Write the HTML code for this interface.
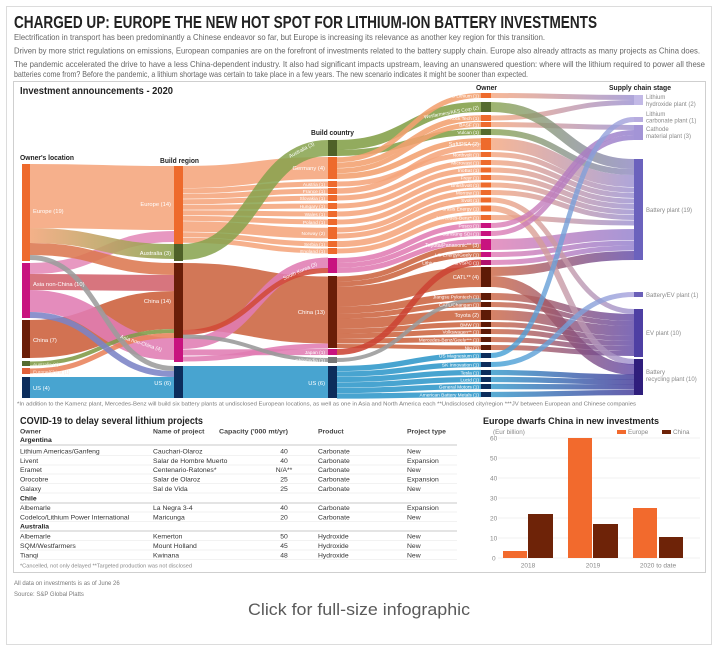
<!DOCTYPE html>
<html><head><meta charset="utf-8"><style>
html,body{margin:0;padding:0;background:#fff;}
svg{display:block;}
text{font-family:"Liberation Sans Narrow","Liberation Sans",sans-serif;}
</style></head><body>
<svg width="718" height="654" viewBox="0 0 718 654" xmlns="http://www.w3.org/2000/svg">
<defs>
<linearGradient id="gEA" gradientUnits="userSpaceOnUse" x1="30" y1="0" x2="174" y2="0"><stop offset="0" stop-color="#f2a679"/><stop offset="1" stop-color="#8aa24e"/></linearGradient>
<linearGradient id="gS" gradientUnits="userSpaceOnUse" x1="491" y1="0" x2="634" y2="0"><stop offset="0" stop-color="#f5a57c"/><stop offset="1" stop-color="#9a8fd0"/></linearGradient>
<linearGradient id="gG" gradientUnits="userSpaceOnUse" x1="491" y1="0" x2="634" y2="0"><stop offset="0" stop-color="#86a24c"/><stop offset="1" stop-color="#8c86c0"/></linearGradient>
<linearGradient id="gP" gradientUnits="userSpaceOnUse" x1="491" y1="0" x2="634" y2="0"><stop offset="0" stop-color="#e07cb3"/><stop offset="1" stop-color="#8f7ccc"/></linearGradient>
<linearGradient id="gB" gradientUnits="userSpaceOnUse" x1="491" y1="0" x2="634" y2="0"><stop offset="0" stop-color="#cc6440"/><stop offset="1" stop-color="#5e46a6"/></linearGradient>
<linearGradient id="gU" gradientUnits="userSpaceOnUse" x1="491" y1="0" x2="634" y2="0"><stop offset="0" stop-color="#2f97c9"/><stop offset="1" stop-color="#3e3496"/></linearGradient>
<linearGradient id="gU2" gradientUnits="userSpaceOnUse" x1="491" y1="0" x2="634" y2="0"><stop offset="0" stop-color="#3a9fd4"/><stop offset="1" stop-color="#a9a0dc"/></linearGradient>
</defs>

<!-- outer frame -->
<rect x="6.5" y="6.5" width="705" height="638" fill="#fff" stroke="#dcdcdc"/>

<!-- title & intro -->
<text x="14" y="28" font-size="17.5" font-weight="bold" fill="#222" textLength="583" lengthAdjust="spacingAndGlyphs">CHARGED UP: EUROPE THE NEW HOT SPOT FOR LITHIUM-ION BATTERY INVESTMENTS</text>
<g font-size="8.2" fill="#666">
<text x="14" y="40" textLength="531" lengthAdjust="spacingAndGlyphs">Electrification in transport has been predominantly a Chinese endeavor so far, but Europe is increasing its relevance as another key region for this transition.</text>
<text x="14" y="53.5" textLength="686" lengthAdjust="spacingAndGlyphs">Driven by more strict regulations on emissions, European companies are on the forefront of investments related to the battery supply chain. Europe also already attracts as many projects as China does.</text>
<text x="14" y="67" textLength="691" lengthAdjust="spacingAndGlyphs">The pandemic accelerated the drive to have a less China-dependent industry. It also had significant impacts upstream, leaving an unanswered question: where will the lithium required to power all these</text>
<text x="14" y="77" textLength="514" lengthAdjust="spacingAndGlyphs">batteries come from? Before the pandemic, a lithium shortage was certain to take place in a few years. The new scenario indicates it might be sooner than expected.</text>
</g>

<!-- main box -->
<rect x="13.5" y="81.5" width="692" height="491" fill="none" stroke="#cfcfcf"/>

<!-- headers -->
<text x="20" y="94" font-size="10" font-weight="bold" fill="#222" textLength="153" lengthAdjust="spacingAndGlyphs">Investment announcements - 2020</text>
<g font-size="7" font-weight="bold" fill="#222">
<text x="20" y="160" textLength="54" lengthAdjust="spacingAndGlyphs">Owner's location</text>
<text x="160" y="163" textLength="39" lengthAdjust="spacingAndGlyphs">Build region</text>
<text x="311" y="135" textLength="43" lengthAdjust="spacingAndGlyphs">Build country</text>
<text x="476" y="90" textLength="21" lengthAdjust="spacingAndGlyphs">Owner</text>
<text x="609" y="90" textLength="62" lengthAdjust="spacingAndGlyphs">Supply chain stage</text>
</g>

<!-- FLOWS col1 -> col2 -->
<g fill="none" stroke-opacity="0.88">
<path d="M30 196C102 196 102 198 174 198" stroke-width="64" stroke="#f5a57c"/>
<path d="M30 339C102 339 102 310 174 310" stroke-width="38" stroke="#cc5e3a"/>
<path d="M30 387.5C102 387.5 102 387.5 174 387.5" stroke-width="21" stroke="#2f97c9"/>
<path d="M30 301C102 301 102 349 174 349" stroke-width="22" stroke="#e07cb3"/>
<path d="M30 282C102 282 102 283 174 283" stroke-width="16" stroke="#d1626c"/>
<path d="M30 268.5C102 268.5 102 236.5 174 236.5" stroke-width="11" stroke="#e48ab8"/>
<path d="M30 249C102 249 102 269 174 269" stroke-width="12" stroke="#dc7850"/>
<path d="M30 235.5C102 235.5 102 251.5 174 251.5" stroke-width="15" stroke="url(#gEA)"/>
<path d="M30 363.5C102 363.5 102 331 174 331" stroke-width="4" stroke="#7f9a45"/>
<path d="M30 371C102 371 102 335.5 174 335.5" stroke-width="5" stroke="#e8825a"/>
<path d="M30 315C102 315 102 374 174 374" stroke-width="6" stroke="#7b83c6"/>
<path d="M30 257.5C102 257.5 102 368.5 174 368.5" stroke-width="5" stroke="#9c9c9c"/>
</g>

<!-- FLOWS col2 -> col3 -->
<g fill="none" stroke-opacity="0.88">
<path d="M183 296.5C255.5 296.5 255.5 310 328 310" stroke-width="67" stroke="#cc6440"/>
<path d="M183 382C255.5 382 255.5 382 328 382" stroke-width="32" stroke="#2f97c9"/>
<g stroke="#f5a57c">
<path d="M183 177C255.5 177 255.5 168 328 168" stroke-width="22"/>
<path d="M183 190.75C255.5 190.75 255.5 184 328 184" stroke-width="5"/>
<path d="M183 196.25C255.5 196.25 255.5 191 328 191" stroke-width="5"/>
<path d="M183 201.75C255.5 201.75 255.5 198 328 198" stroke-width="5"/>
<path d="M183 207.25C255.5 207.25 255.5 206 328 206" stroke-width="5"/>
<path d="M183 212.75C255.5 212.75 255.5 214 328 214" stroke-width="5"/>
<path d="M183 218.25C255.5 218.25 255.5 222 328 222" stroke-width="5"/>
<path d="M183 226.5C255.5 226.5 255.5 233 328 233" stroke-width="10.5"/>
<path d="M183 234.75C255.5 234.75 255.5 244 328 244" stroke-width="5"/>
<path d="M183 240.25C255.5 240.25 255.5 251 328 251" stroke-width="5"/>
</g>
<path d="M183 252C255.5 252 255.5 148 328 148" stroke-width="16" stroke="#86a24c" stroke-opacity="0.85"/>
<path d="M183 343.5C255.5 343.5 255.5 263 328 263" stroke-width="11" stroke="#e07cb3"/>
<path d="M183 352.5C255.5 352.5 255.5 352 328 352" stroke-width="6" stroke="#e07cb3"/>
<path d="M183 359C255.5 359 255.5 346 328 346" stroke-width="5" stroke="#e07cb3"/>
<path d="M183 332.5C255.5 332.5 255.5 270.5 328 270.5" stroke-width="5" stroke="#d24a38"/>
<path d="M183 336.5C255.5 336.5 255.5 360 328 360" stroke-width="4" stroke="#999"/>
</g>

<!-- FLOWS col3 -> col4 -->
<g fill="none" stroke-opacity="0.88">
<g stroke="#cc6440">
<path d="M337 279C409 279 409 246.5 481 246.5" stroke-width="5"/>
<path d="M337 284C409 284 409 254.5 481 254.5" stroke-width="5"/>
<path d="M337 296.5C409 296.5 409 277 481 277" stroke-width="20"/>
<path d="M337 310C409 310 409 296.5 481 296.5" stroke-width="7"/>
<path d="M337 316C409 316 409 304.5 481 304.5" stroke-width="5"/>
<path d="M337 323.5C409 323.5 409 315 481 315" stroke-width="10"/>
<path d="M337 331C409 331 409 324.5 481 324.5" stroke-width="5"/>
<path d="M337 336C409 336 409 331.5 481 331.5" stroke-width="5"/>
<path d="M337 341C409 341 409 339.5 481 339.5" stroke-width="5"/>
<path d="M337 346C409 346 409 347.5 481 347.5" stroke-width="4"/>
</g>
<g stroke="#f5a57c">
<path d="M337 184C409 184 409 154.5 481 154.5" stroke-width="5"/>
<path d="M337 198C409 198 409 162.5 481 162.5" stroke-width="5"/>
<path d="M337 206C409 206 409 170 481 170" stroke-width="5"/>
<path d="M337 214C409 214 409 177.5 481 177.5" stroke-width="5"/>
<path d="M337 222C409 222 409 185 481 185" stroke-width="5"/>
<path d="M337 230C409 230 409 192.5 481 192.5" stroke-width="5"/>
<path d="M337 236C409 236 409 200 481 200" stroke-width="5"/>
<path d="M337 244C409 244 409 208.5 481 208.5" stroke-width="6"/>
<path d="M337 251C409 251 409 217.5 481 217.5" stroke-width="5"/>
<path d="M337 191C409 191 409 147 481 147" stroke-width="5.5"/>
</g>
<g stroke="#86a24c" stroke-opacity="0.9">
<path d="M337 145C409 145 409 107 481 107" stroke-width="10"/>
<path d="M337 153C409 153 409 132 481 132" stroke-width="6"/>
</g>
<g stroke="#f2a06f">
<path d="M337 159.75C409 159.75 409 95.5 481 95.5" stroke-width="5"/>
<path d="M337 165.25C409 165.25 409 118 481 118" stroke-width="5.5"/>
<path d="M337 170.75C409 170.75 409 124.5 481 124.5" stroke-width="5"/>
<path d="M337 176.25C409 176.25 409 141 481 141" stroke-width="5.5"/>
</g>
<g stroke="#e07cb3">
<path d="M337 260.5C409 260.5 409 225.5 481 225.5" stroke-width="5"/>
<path d="M337 265.5C409 265.5 409 233.5 481 233.5" stroke-width="5"/>
<path d="M337 270.5C409 270.5 409 241.5 481 241.5" stroke-width="5"/>
</g>
<path d="M337 352C409 352 409 262.5 481 262.5" stroke-width="6" stroke="#cc4434"/>
<path d="M337 360C409 360 409 300 481 300" stroke-width="4" stroke="#9a9a9a"/>
<g stroke="#2f97c9">
<path d="M337 368.5C409 368.5 409 355.5 481 355.5" stroke-width="5.3"/>
<path d="M337 374C409 374 409 364.5 481 364.5" stroke-width="5.3"/>
<path d="M337 379.5C409 379.5 409 372.5 481 372.5" stroke-width="5.3"/>
<path d="M337 385C409 385 409 379.5 481 379.5" stroke-width="5.3"/>
<path d="M337 390.5C409 390.5 409 386.5 481 386.5" stroke-width="5.3"/>
<path d="M337 396C409 396 409 394.5 481 394.5" stroke-width="5.3"/>
</g>
</g>

<!-- FLOWS col4 -> col5 -->
<g fill="none" stroke-opacity="0.8">
<path d="M491 271.5C562.5 271.5 562.5 255.5 634 255.5" stroke-width="9" stroke="url(#gB)"/>
<path d="M491 315C562.5 315 562.5 331 634 331" stroke-width="10" stroke="url(#gB)"/>
<path d="M491 296.5C562.5 296.5 562.5 317.5 634 317.5" stroke-width="7" stroke="url(#gB)"/>
<path d="M491 304.5C562.5 304.5 562.5 323.5 634 323.5" stroke-width="5" stroke="url(#gB)"/>
<path d="M491 324.5C562.5 324.5 562.5 338.5 634 338.5" stroke-width="5" stroke="url(#gB)"/>
<path d="M491 331.5C562.5 331.5 562.5 343.5 634 343.5" stroke-width="5" stroke="url(#gB)"/>
<path d="M491 339.5C562.5 339.5 562.5 348.5 634 348.5" stroke-width="5" stroke="url(#gB)"/>
<path d="M491 347.5C562.5 347.5 562.5 353.5 634 353.5" stroke-width="5" stroke="url(#gB)"/>
<path d="M491 95.5C562.5 95.5 562.5 97.5 634 97.5" stroke-width="5" stroke="url(#gS)"/>
<path d="M491 118C562.5 118 562.5 102.5 634 102.5" stroke-width="5" stroke="url(#gS)"/>
<path d="M491 124.5C562.5 124.5 562.5 127.5 634 127.5" stroke-width="5" stroke="url(#gS)"/>
<path d="M491 144C562.5 144 562.5 181 634 181" stroke-width="12" stroke="url(#gS)"/>
<path d="M491 154.5C562.5 154.5 562.5 190 634 190" stroke-width="5" stroke="url(#gS)"/>
<path d="M491 162.5C562.5 162.5 562.5 195.5 634 195.5" stroke-width="5" stroke="url(#gS)"/>
<path d="M491 170C562.5 170 562.5 201 634 201" stroke-width="5" stroke="url(#gS)"/>
<path d="M491 177.5C562.5 177.5 562.5 206.5 634 206.5" stroke-width="5" stroke="url(#gS)"/>
<path d="M491 185C562.5 185 562.5 212 634 212" stroke-width="5" stroke="url(#gS)"/>
<path d="M491 192.5C562.5 192.5 562.5 217.5 634 217.5" stroke-width="5" stroke="url(#gS)"/>
<path d="M491 217.5C562.5 217.5 562.5 223 634 223" stroke-width="5" stroke="url(#gS)"/>
<path d="M491 107C562.5 107 562.5 164 634 164" stroke-width="10" stroke="url(#gG)"/>
<path d="M491 132C562.5 132 562.5 172 634 172" stroke-width="6" stroke="url(#gG)"/>
<path d="M491 244.5C562.5 244.5 562.5 234.5 634 234.5" stroke-width="11" stroke="url(#gP)"/>
<path d="M491 254.5C562.5 254.5 562.5 243 634 243" stroke-width="5" stroke="url(#gP)"/>
<path d="M491 262.5C562.5 262.5 562.5 248 634 248" stroke-width="5" stroke="url(#gP)"/>
<path d="M491 200C562.5 200 562.5 311.5 634 311.5" stroke-width="5" stroke="url(#gS)"/>
<path d="M491 208.5C562.5 208.5 562.5 362 634 362" stroke-width="6" stroke="url(#gS)"/>
<path d="M491 225.5C562.5 225.5 562.5 132.5 634 132.5" stroke-width="5" stroke="url(#gP)"/>
<path d="M491 233.5C562.5 233.5 562.5 137.5 634 137.5" stroke-width="5" stroke="url(#gP)"/>
<path d="M491 281.5C562.5 281.5 562.5 369.5 634 369.5" stroke-width="11" stroke="url(#gB)"/>
<path d="M491 372.5C562.5 372.5 562.5 377 634 377" stroke-width="5.3" stroke="url(#gU)"/>
<path d="M491 379.5C562.5 379.5 562.5 382 634 382" stroke-width="5.3" stroke="url(#gU)"/>
<path d="M491 386.5C562.5 386.5 562.5 387 634 387" stroke-width="5.3" stroke="url(#gU)"/>
<path d="M491 394.5C562.5 394.5 562.5 392.5 634 392.5" stroke-width="5.3" stroke="url(#gU)"/>
<path d="M491 364.5C562.5 364.5 562.5 294.5 634 294.5" stroke-width="5" stroke="url(#gU2)"/>
<path d="M491 355.5C562.5 355.5 562.5 119.5 634 119.5" stroke-width="5" stroke="url(#gU2)"/>
</g>

<!-- NODES col1 -->
<g>
<rect x="22" y="164" width="8" height="97" fill="#ee6a2c"/>
<rect x="22" y="263" width="8" height="55" fill="#c8137f"/>
<rect x="22" y="320" width="8" height="38" fill="#6a1e08"/>
<rect x="22" y="361" width="8" height="5" fill="#556b2f"/>
<rect x="22" y="368" width="8" height="6" fill="#e0603a"/>
<rect x="22" y="377" width="8" height="21" fill="#0c2d5c"/>
</g>
<!-- col2 -->
<g>
<rect x="174" y="166" width="9" height="78" fill="#ee6a2c"/>
<rect x="174" y="244" width="9" height="17" fill="#4e6128"/>
<rect x="174" y="263" width="9" height="75" fill="#6a1e08"/>
<rect x="174" y="338" width="9" height="24" fill="#c8137f"/>
<rect x="174" y="366" width="9" height="32" fill="#0c2d5c"/>
</g>
<!-- col3 -->
<g fill="#ee6a2c">
<rect x="328" y="140" width="9" height="16" fill="#4e6128"/>
<rect x="328" y="157" width="9" height="22"/>
<rect x="328" y="181" width="9" height="6"/>
<rect x="328" y="188" width="9" height="6"/>
<rect x="328" y="195" width="9" height="6"/>
<rect x="328" y="203" width="9" height="6"/>
<rect x="328" y="211" width="9" height="6"/>
<rect x="328" y="219" width="9" height="6"/>
<rect x="328" y="227" width="9" height="12"/>
<rect x="328" y="241" width="9" height="6"/>
<rect x="328" y="248" width="9" height="6"/>
<rect x="328" y="258" width="9" height="15" fill="#c8137f"/>
<rect x="328" y="276" width="9" height="72" fill="#6a1e08"/>
<rect x="328" y="349" width="9" height="6" fill="#c8137f"/>
<rect x="328" y="357" width="9" height="6" fill="#777"/>
<rect x="328" y="366" width="9" height="32" fill="#0c2d5c"/>
</g>
<!-- col4 -->
<g fill="#ee6a2c">
<rect x="481" y="93" width="10" height="5"/>
<rect x="481" y="102" width="10" height="10" fill="#556b2f"/>
<rect x="481" y="115" width="10" height="6"/>
<rect x="481" y="122" width="10" height="5"/>
<rect x="481" y="129" width="10" height="6" fill="#556b2f"/>
<rect x="481" y="138" width="10" height="12"/>
<rect x="481" y="152" width="10" height="5"/>
<rect x="481" y="160" width="10" height="5"/>
<rect x="481" y="167.5" width="10" height="5"/>
<rect x="481" y="175" width="10" height="5"/>
<rect x="481" y="182.5" width="10" height="5"/>
<rect x="481" y="190" width="10" height="5"/>
<rect x="481" y="197.5" width="10" height="5"/>
<rect x="481" y="205.5" width="10" height="6"/>
<rect x="481" y="215" width="10" height="5"/>
<rect x="481" y="223" width="10" height="5" fill="#c8137f"/>
<rect x="481" y="231" width="10" height="5" fill="#c8137f"/>
<rect x="481" y="239" width="10" height="11" fill="#c8137f"/>
<rect x="481" y="252" width="10" height="5" fill="#c8137f"/>
<rect x="481" y="260" width="10" height="5" fill="#b0126e"/>
<rect x="481" y="267" width="10" height="20" fill="#5e1a06"/>
<rect x="481" y="293" width="10" height="7" fill="#5e1a06"/>
<rect x="481" y="302" width="10" height="5" fill="#5e1a06"/>
<rect x="481" y="310" width="10" height="10" fill="#5e1a06"/>
<rect x="481" y="322" width="10" height="5" fill="#5e1a06"/>
<rect x="481" y="329" width="10" height="5" fill="#5e1a06"/>
<rect x="481" y="337" width="10" height="5" fill="#5e1a06"/>
<rect x="481" y="345" width="10" height="5" fill="#5e1a06"/>
<rect x="481" y="353" width="10" height="5" fill="#0c2d5c"/>
<rect x="481" y="362" width="10" height="5" fill="#0c2d5c"/>
<rect x="481" y="370" width="10" height="5" fill="#0c2d5c"/>
<rect x="481" y="377" width="10" height="5" fill="#0c2d5c"/>
<rect x="481" y="384" width="10" height="5" fill="#0c2d5c"/>
<rect x="481" y="392" width="10" height="5" fill="#0c2d5c"/>
</g>
<!-- col5 -->
<g>
<rect x="634" y="95" width="9" height="10" fill="#c2b9e6"/>
<rect x="634" y="117" width="9" height="5" fill="#b7acdf"/>
<rect x="634" y="125" width="9" height="15" fill="#a394d6"/>
<rect x="634" y="159" width="9" height="101" fill="#6b62bd"/>
<rect x="634" y="292" width="9" height="5" fill="#6a5fb8"/>
<rect x="634" y="309" width="9" height="48" fill="#4e3fa3"/>
<rect x="634" y="359" width="9" height="36" fill="#2f1e7c"/>
</g>

<!-- node labels -->
<g font-size="5.8" fill="#fff">
<text x="33" y="213">Europe (19)</text>
<text x="33" y="286">Asia non-China (10)</text>
<text x="33" y="342">China (7)</text>
<text x="33" y="390">US (4)</text>
<text x="33" y="366" font-size="4.8" fill="#e8efd8">Australia (1)</text>
<text x="33" y="373.5" font-size="4.8" fill="#ffe3d6">Europe/China (1)</text>
<g text-anchor="end">
<text x="171" y="206">Europe (14)</text>
<text x="171" y="255">Australia (3)</text>
<text x="171" y="303">China (14)</text>
<text x="171" y="385">US (6)</text>
<text x="325" y="170">Germany (4)</text>
<text x="325" y="186" font-size="4.8">Austria (1)</text>
<text x="325" y="193" font-size="4.8">France (1)</text>
<text x="325" y="200" font-size="4.8">Slovakia (1)</text>
<text x="325" y="208" font-size="4.8">Hungary (1)</text>
<text x="325" y="216" font-size="4.8">Wales (1)</text>
<text x="325" y="224" font-size="4.8">Poland (1)</text>
<text x="325" y="235" font-size="4.8">Norway (2)</text>
<text x="325" y="246" font-size="4.8">Serbia (1)</text>
<text x="325" y="253" font-size="4.8">England (1)</text>
<text x="325" y="314">China (13)</text>
<text x="325" y="354" font-size="4.8">Japan (1)</text>
<text x="325" y="362" font-size="4.8">Chile/India (1)</text>
<text x="325" y="385">US (6)</text>
</g>
<text x="120" y="338" font-size="5.2" transform="rotate(18 120 338)">Asia non-China (4)</text>
<text x="290" y="158" font-size="5.2" transform="rotate(-28 290 158)">Australia (3)</text>
<text x="284" y="280" font-size="5.2" transform="rotate(-24 284 280)">South Korea (3)</text>
</g>

<!-- owner labels -->
<g font-size="4.8" fill="#fff" text-anchor="end">
<text x="479" y="97.5">AMG Lithium (1)</text>
<text x="479" y="109" transform="rotate(-10 479 109)">Wesfarmers/AES Corp (2)</text>
<text x="479" y="120">Rock Tech (1)</text>
<text x="479" y="126.5">BASF (1)</text>
<text x="479" y="134">Vulcan (1)</text>
<text x="479" y="146" font-size="5.5">Saft/PSA (2)</text>
<text x="479" y="156.5">Northvolt (1)</text>
<text x="479" y="164.5">Microvast (1)</text>
<text x="479" y="172">InoBat (1)</text>
<text x="479" y="179.5">Freyr (1)</text>
<text x="479" y="187">Britishvolt (1)</text>
<text x="479" y="194.5">Morrow (1)</text>
<text x="479" y="202">Svolt (1)</text>
<text x="479" y="210.5">Farasis Energy (1)</text>
<text x="479" y="219.5">Mercedes-Benz* (1)</text>
<text x="479" y="227.5">Posco (1)</text>
<text x="479" y="235.5">Samsung SDI (1)</text>
<text x="479" y="247" font-size="5.3">Toyota/Panasonic** (3)</text>
<text x="479" y="256.5">LG Energy/Geely (1)</text>
<text x="479" y="264.5">Lithium Australia/VSPC (1)</text>
<text x="479" y="279" font-size="5.5">CATL** (4)</text>
<text x="479" y="298.5">Jiangsu Pylontech (1)</text>
<text x="479" y="306.5">CATL/Changan (1)</text>
<text x="479" y="317" font-size="5.5">Toyota (2)</text>
<text x="479" y="326.5">BMW (1)</text>
<text x="479" y="333.5">Volkswagen** (1)</text>
<text x="479" y="341.5">Mercedes-Benz/Geely*** (1)</text>
<text x="479" y="349.5">Nio (1)</text>
<text x="479" y="357.5">US Magnesium (1)</text>
<text x="479" y="366.5">SK Innovation (1)</text>
<text x="479" y="374.5">Tesla (1)</text>
<text x="479" y="381.5">Lucid (1)</text>
<text x="479" y="388.5">General Motors (1)</text>
<text x="479" y="396.5">American Battery Metals (1)</text>
</g>

<!-- supply chain labels -->
<g font-size="6" fill="#8a8a8a">
<text x="646" y="99">Lithium</text>
<text x="646" y="106">hydroxide plant (2)</text>
<text x="646" y="116">Lithium</text>
<text x="646" y="122.5">carbonate plant (1)</text>
<text x="646" y="131">Cathode</text>
<text x="646" y="138">material plant (3)</text>
<text x="646" y="212">Battery plant (19)</text>
<text x="646" y="297">Battery/EV plant (1)</text>
<text x="646" y="335">EV plant (10)</text>
<text x="646" y="374">Battery</text>
<text x="646" y="381">recycling plant (10)</text>
</g>

<text x="17" y="405.5" font-size="5.6" fill="#7a7a7a" textLength="619" lengthAdjust="spacingAndGlyphs">*In addition to the Kamenz plant, Mercedes-Benz will build six battery plants at undisclosed European locations, as well as one in Asia and North America each **Undisclosed city/region ***JV between European and Chinese companies</text>

<!-- TABLE -->
<text x="20" y="424" font-size="10" font-weight="bold" fill="#222" textLength="183" lengthAdjust="spacingAndGlyphs">COVID-19 to delay several lithium projects</text>
<g font-size="6.8" font-weight="bold" fill="#444">
<text x="20" y="433.5">Owner</text>
<text x="153" y="433.5">Name of project</text>
<text x="219" y="433.5" textLength="69" lengthAdjust="spacingAndGlyphs">Capacity ('000 mt/yr)</text>
<text x="318" y="433.5">Product</text>
<text x="407" y="433.5">Project type</text>
<text x="20" y="442" fill="#222">Argentina</text>
<text x="20" y="500.5" fill="#222">Chile</text>
<text x="20" y="528.5" fill="#222">Australia</text>
</g>
<g stroke="#b8b8b8" stroke-width="0.8">
<line x1="20" y1="445" x2="457" y2="445"/>
<line x1="20" y1="503" x2="457" y2="503"/>
<line x1="20" y1="531" x2="457" y2="531"/>
</g>
<g stroke="#e6e6e6" stroke-width="0.6">
<line x1="20" y1="455.5" x2="457" y2="455.5"/>
<line x1="20" y1="465" x2="457" y2="465"/>
<line x1="20" y1="474" x2="457" y2="474"/>
<line x1="20" y1="483.5" x2="457" y2="483.5"/>
<line x1="20" y1="493" x2="457" y2="493"/>
<line x1="20" y1="512" x2="457" y2="512"/>
<line x1="20" y1="521.5" x2="457" y2="521.5"/>
<line x1="20" y1="540.5" x2="457" y2="540.5"/>
<line x1="20" y1="550" x2="457" y2="550"/>
<line x1="20" y1="559.5" x2="457" y2="559.5"/>
</g>
<g font-size="6.8" fill="#333">
<text x="20" y="453.5">Lithium Americas/Ganfeng</text><text x="153" y="453.5">Cauchari-Olaroz</text><text x="284" y="453.5" text-anchor="middle">40</text><text x="318" y="453.5">Carbonate</text><text x="407" y="453.5">New</text>
<text x="20" y="463">Livent</text><text x="153" y="463">Salar de Hombre Muerto</text><text x="284" y="463" text-anchor="middle">40</text><text x="318" y="463">Carbonate</text><text x="407" y="463">Expansion</text>
<text x="20" y="472">Eramet</text><text x="153" y="472">Centenario-Ratones*</text><text x="284" y="472" text-anchor="middle">N/A**</text><text x="318" y="472">Carbonate</text><text x="407" y="472">New</text>
<text x="20" y="481.5">Orocobre</text><text x="153" y="481.5">Salar de Olaroz</text><text x="284" y="481.5" text-anchor="middle">25</text><text x="318" y="481.5">Carbonate</text><text x="407" y="481.5">Expansion</text>
<text x="20" y="491">Galaxy</text><text x="153" y="491">Sal de Vida</text><text x="284" y="491" text-anchor="middle">25</text><text x="318" y="491">Carbonate</text><text x="407" y="491">New</text>
<text x="20" y="510">Albemarle</text><text x="153" y="510">La Negra 3-4</text><text x="284" y="510" text-anchor="middle">40</text><text x="318" y="510">Carbonate</text><text x="407" y="510">Expansion</text>
<text x="20" y="519.5">Codelco/Lithium Power International</text><text x="153" y="519.5">Maricunga</text><text x="284" y="519.5" text-anchor="middle">20</text><text x="318" y="519.5">Carbonate</text><text x="407" y="519.5">New</text>
<text x="20" y="538.5">Albemarle</text><text x="153" y="538.5">Kemerton</text><text x="284" y="538.5" text-anchor="middle">50</text><text x="318" y="538.5">Hydroxide</text><text x="407" y="538.5">New</text>
<text x="20" y="548">SQM/Westfarmers</text><text x="153" y="548">Mount Holland</text><text x="284" y="548" text-anchor="middle">45</text><text x="318" y="548">Hydroxide</text><text x="407" y="548">New</text>
<text x="20" y="557.5">Tianqi</text><text x="153" y="557.5">Kwinana</text><text x="284" y="557.5" text-anchor="middle">48</text><text x="318" y="557.5">Hydroxide</text><text x="407" y="557.5">New</text>
</g>
<text x="20" y="567.5" font-size="5.6" fill="#888">*Cancelled, not only delayed **Targeted production was not disclosed</text>

<!-- BAR CHART -->
<text x="483" y="424" font-size="9.5" font-weight="bold" fill="#222" textLength="176" lengthAdjust="spacingAndGlyphs">Europe dwarfs China in new investments</text>
<text x="493" y="434" font-size="6.3" fill="#888">(Eur billion)</text>
<rect x="617" y="430" width="9" height="4" fill="#f26a2d"/>
<text x="628" y="434" font-size="6.3" fill="#888">Europe</text>
<rect x="662" y="430" width="9" height="4" fill="#6e2308"/>
<text x="673" y="434" font-size="6.3" fill="#888">China</text>
<g stroke="#eeeeee" stroke-width="0.8">
<line x1="498" y1="438" x2="700" y2="438"/>
<line x1="498" y1="458" x2="700" y2="458"/>
<line x1="498" y1="478" x2="700" y2="478"/>
<line x1="498" y1="498" x2="700" y2="498"/>
<line x1="498" y1="518" x2="700" y2="518"/>
<line x1="498" y1="538" x2="700" y2="538"/>
<line x1="498" y1="558" x2="700" y2="558"/>
</g>
<g font-size="6.5" fill="#888">
<text x="490" y="440.5">60</text>
<text x="490" y="460.5">50</text>
<text x="490" y="480.5">40</text>
<text x="490" y="500.5">30</text>
<text x="490" y="520.5">20</text>
<text x="490" y="540.5">10</text>
<text x="492" y="560.5">0</text>
</g>
<rect x="503" y="551" width="24" height="7" fill="#f26a2d"/>
<rect x="528" y="514" width="25" height="44" fill="#6e2308"/>
<rect x="568" y="438" width="24" height="120" fill="#f26a2d"/>
<rect x="593" y="524" width="25" height="34" fill="#6e2308"/>
<rect x="633" y="508" width="24" height="50" fill="#f26a2d"/>
<rect x="659" y="537" width="24" height="21" fill="#6e2308"/>
<g font-size="6.5" fill="#888" text-anchor="middle">
<text x="528" y="567.5">2018</text>
<text x="593" y="567.5">2019</text>
<text x="658" y="567.5">2020 to date</text>
</g>

<!-- footer -->
<text x="14" y="585" font-size="6" fill="#7a7a7a">All data on investments is as of June 26</text>
<text x="14" y="596" font-size="6" fill="#7a7a7a">Source: S&amp;P Global Platts</text>
<text x="359" y="615" font-size="17" fill="#5a5a5a" text-anchor="middle" textLength="222" lengthAdjust="spacingAndGlyphs">Click for full-size infographic</text>
</svg>
</body></html>
